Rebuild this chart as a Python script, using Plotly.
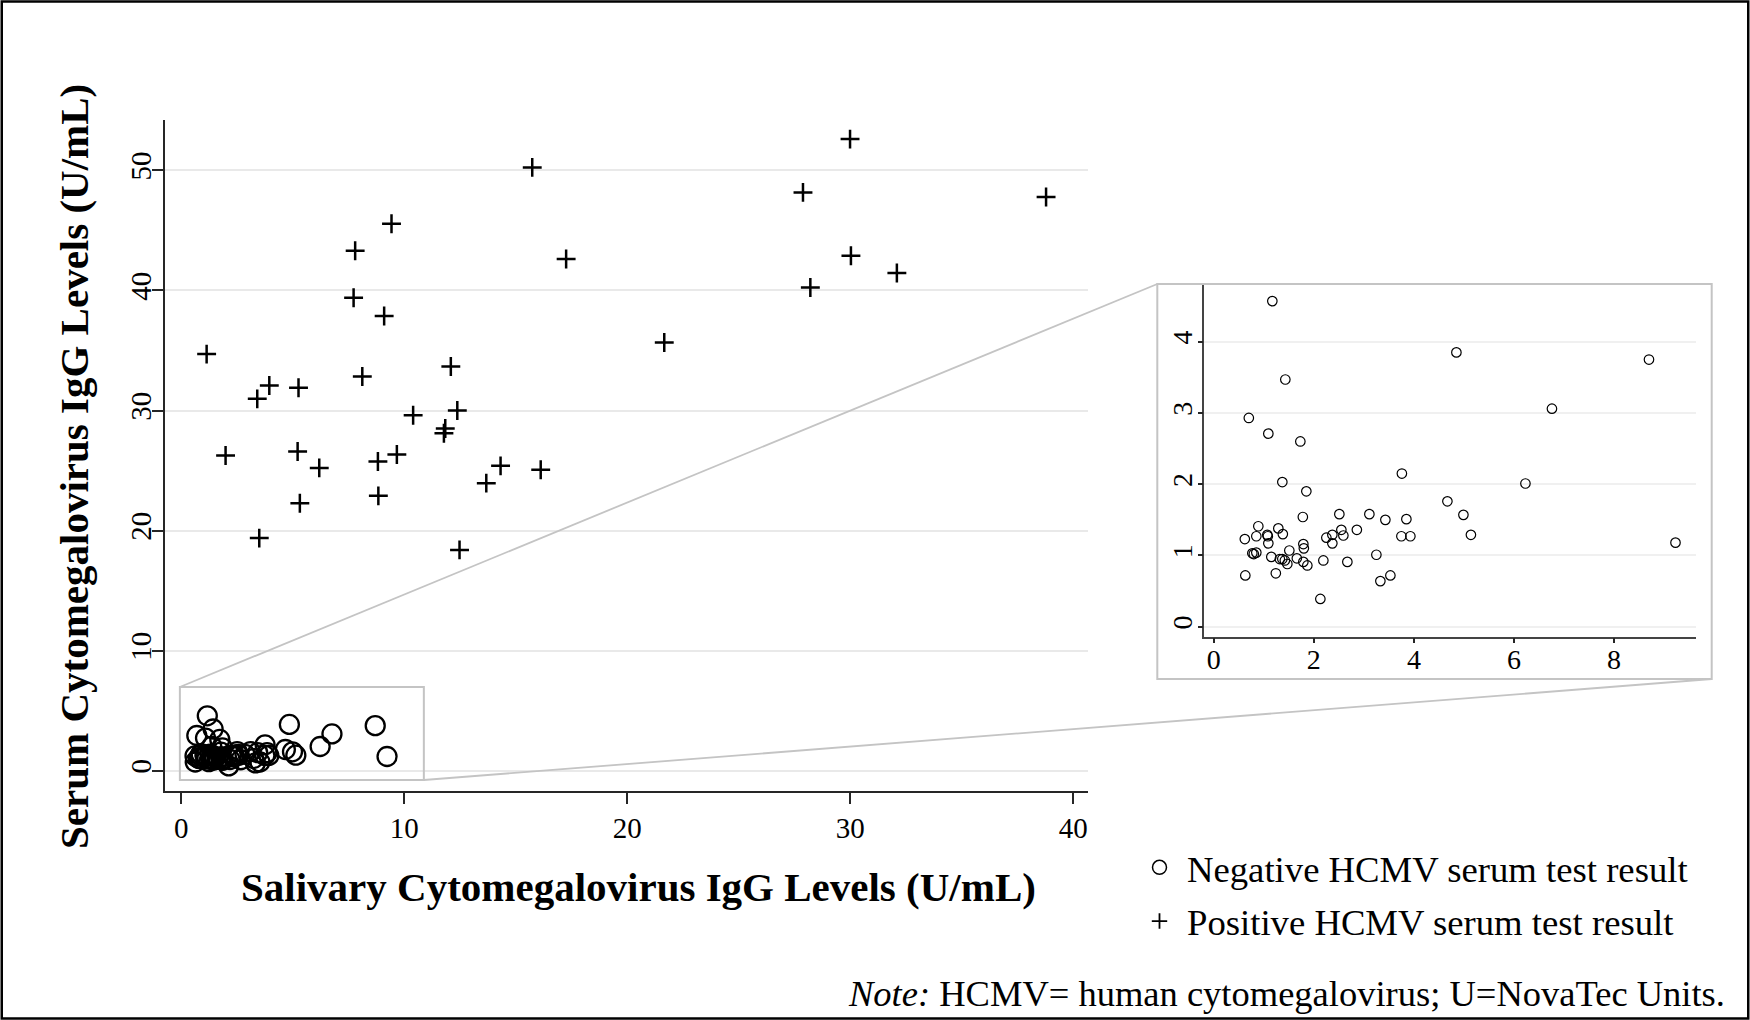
import plotly.graph_objects as go

W, H = 1750, 1020

# ---------------- data ----------------
neg_x = [1.17, 1.43, 0.70, 1.09, 1.73, 3.76, 1.37, 1.85, 1.78, 2.51,
         3.11, 3.43, 3.85, 0.89, 1.29, 0.62, 0.85, 1.07, 1.08, 1.38,
         1.09, 2.25, 2.37, 2.55, 2.59, 2.37, 2.86, 3.75, 3.93, 1.79,
         1.80, 1.51, 0.77, 0.85, 0.80, 1.15, 1.32, 1.37, 1.42, 1.47,
         1.66, 1.79, 1.87, 2.19, 2.67, 3.25, 1.24, 0.63, 3.33, 3.53,
         2.13, 4.67, 4.85, 8.70, 6.76, 6.23, 4.99, 5.14, 9.23]
neg_y = [4.57, 3.47, 2.93, 2.71, 2.60, 2.15, 2.03, 1.90, 1.54, 1.58,
         1.58, 1.50, 1.51, 1.41, 1.38, 1.23, 1.27, 1.29, 1.27, 1.30,
         1.17, 1.25, 1.29, 1.36, 1.28, 1.17, 1.36, 1.27, 1.27, 1.16,
         1.10, 1.07, 1.03, 1.04, 1.02, 0.98, 0.95, 0.95, 0.93, 0.88,
         0.96, 0.91, 0.86, 0.93, 0.91, 1.01, 0.75, 0.72, 0.64, 0.72,
         0.39, 1.76, 3.85, 3.75, 3.06, 2.01, 1.57, 1.29, 1.18]

pos_x = [15.74, 9.43, 7.80, 17.26, 7.73, 9.10, 1.14, 12.09, 8.12, 3.95,
         5.26, 3.41, 12.38, 10.40, 11.84, 11.78, 1.99, 5.22, 9.67, 8.82,
         6.19, 14.32, 16.12, 13.68, 8.84, 5.32, 3.50, 12.48, 27.88, 28.21,
         21.66, 29.99, 38.78, 30.03, 32.09]
pos_y = [50.25, 45.56, 43.31, 42.62, 39.39, 37.87, 34.70, 33.67, 32.83, 32.08,
         31.89, 30.97, 30.00, 29.61, 28.50, 28.11, 26.25, 26.58, 26.33, 25.75,
         25.22, 25.39, 25.06, 23.95, 22.89, 22.28, 19.37, 18.39, 48.17, 40.25,
         35.67, 52.61, 47.78, 42.89, 41.45]

x_ticks = [0, 10, 20, 30, 40]
y_ticks = [0, 10, 20, 30, 40, 50]
inset_x_ticks = [0, 2, 4, 6, 8]
inset_y_ticks = [0, 1, 2, 3, 4]

legend_labels = ["Negative HCMV serum test result", "Positive HCMV serum test result"]
x_title = "Salivary Cytomegalovirus IgG Levels (U/mL)"
y_title = "Serum Cytomegalovirus IgG Levels (U/mL)"
note_text = "<i>Note:</i> HCMV= human cytomegalovirus; U=NovaTec Units."

# zoomed region marked on the main plot (data units)
zoom_x = [-0.06, 10.88]
zoom_y = [-0.78, 6.97]

# ---------------- layout geometry (pixels) ----------------
main_l, main_r, main_t, main_b = 164.7, 1088.0, 120.0, 790.7
main_xr, main_yr = [-0.74, 40.66], [-1.67, 54.2]
ins_l, ins_r, ins_t, ins_b = 1204.3, 1696.0, 284.0, 636.7
ins_xr, ins_yr = [-0.19, 9.64], [-0.14, 4.81]
box_l, box_r, box_t, box_b = 1157.3, 1711.7, 284.0, 679.0

def px(x):
    return x / W

def py(y):
    return 1 - y / H

def main_to_px(xv, yv):
    X = main_l + (xv - main_xr[0]) / (main_xr[1] - main_xr[0]) * (main_r - main_l)
    Y = main_b - (yv - main_yr[0]) / (main_yr[1] - main_yr[0]) * (main_b - main_t)
    return X, Y

FONT = "Liberation Serif"
GRID = "#e9e9e9"
BOXC = "#c4c4c4"
AX = "#262626"

fig = go.Figure()

fig.add_trace(go.Scatter(
    x=neg_x, y=neg_y, mode="markers", showlegend=False, hoverinfo="skip",
    marker=dict(symbol="circle-open", size=19, color="black",
                line=dict(width=2.3, color="black")),
    xaxis="x", yaxis="y"))
fig.add_trace(go.Scatter(
    x=pos_x, y=pos_y, mode="markers", showlegend=False, hoverinfo="skip",
    marker=dict(symbol="cross-thin", size=13.5, color="black",
                line=dict(width=2.5, color="black")),
    xaxis="x", yaxis="y"))
fig.add_trace(go.Scatter(
    x=neg_x, y=neg_y, mode="markers", showlegend=False, hoverinfo="skip",
    marker=dict(symbol="circle-open", size=9.5, color="black",
                line=dict(width=1.2, color="black")),
    xaxis="x2", yaxis="y2"))

# legend entries
fig.add_trace(go.Scatter(
    x=[None], y=[None], mode="markers", name=legend_labels[0], legendgroup="a",
    marker=dict(symbol="circle-open", size=14, color="black",
                line=dict(width=1.5, color="black"))))
fig.add_trace(go.Scatter(
    x=[None], y=[None], mode="markers", name=legend_labels[1], legendgroup="b",
    marker=dict(symbol="cross-thin", size=11, color="black",
                line=dict(width=1.8, color="black"))))

tickfont_main = dict(family=FONT, size=29, color="black")
tickfont_ins = dict(family=FONT, size=28, color="black")

# connecting lines
zx0, zy1 = main_to_px(zoom_x[0], zoom_y[1])
zx1, zy0 = main_to_px(zoom_x[1], zoom_y[0])

shapes = [
    dict(type="rect", xref="x", yref="y", x0=zoom_x[0], x1=zoom_x[1],
         y0=zoom_y[0], y1=zoom_y[1], line=dict(color=BOXC, width=2)),
    dict(type="rect", xref="paper", yref="paper", x0=px(box_l), x1=px(box_r),
         y0=py(box_b), y1=py(box_t), line=dict(color=BOXC, width=2)),
    dict(type="line", xref="paper", yref="paper", x0=px(zx0), y0=py(zy1),
         x1=px(box_l), y1=py(box_t), line=dict(color=BOXC, width=1.8)),
    dict(type="line", xref="paper", yref="paper", x0=px(zx1), y0=py(zy0),
         x1=px(box_r), y1=py(box_b), line=dict(color=BOXC, width=1.8)),
    dict(type="rect", xref="paper", yref="paper", x0=0.001, x1=0.999,
         y0=0.0015, y1=0.9985, line=dict(color="black", width=2.5)),
]

fig.update_layout(
    width=W, height=H, margin=dict(l=0, r=0, t=0, b=0),
    paper_bgcolor="white", plot_bgcolor="rgba(0,0,0,0)",
    font=dict(family=FONT, color="black"),
    xaxis=dict(domain=[px(main_l), px(main_r)], range=main_xr, anchor="y",
               tickmode="array", tickvals=x_ticks, ticks="outside", ticklen=11,
               tickwidth=2, tickcolor=AX, showline=True, linecolor=AX, linewidth=2,
               showgrid=False, zeroline=False, tickfont=tickfont_main,
               ticklabelstandoff=-1),
    yaxis=dict(domain=[py(main_b), py(main_t)], range=main_yr, anchor="x",
               tickmode="array", tickvals=y_ticks, ticks="outside", ticklen=11,
               tickwidth=2, tickcolor=AX, showline=True, linecolor=AX, linewidth=2,
               showgrid=True, gridcolor=GRID, gridwidth=2, zeroline=False,
               tickfont=tickfont_main, tickangle=-90, ticklabelstandoff=-11),
    xaxis2=dict(domain=[px(ins_l), px(ins_r)], range=ins_xr, anchor="y2",
                tickmode="array", tickvals=inset_x_ticks, ticks="outside", ticklen=5,
                tickwidth=1.5, tickcolor=AX, showline=True, linecolor="#444", linewidth=1.5,
                showgrid=False, zeroline=False, tickfont=tickfont_ins,
                ticklabelstandoff=-8),
    yaxis2=dict(domain=[py(ins_b), py(ins_t)], range=ins_yr, anchor="x2",
                tickmode="array", tickvals=inset_y_ticks, ticks="outside", ticklen=5,
                tickwidth=1.5, tickcolor=AX, showline=True, linecolor="#444", linewidth=1.5,
                showgrid=True, gridcolor="#f0f0f0", gridwidth=1.5, zeroline=False,
                tickfont=tickfont_ins, tickangle=-90, ticklabelstandoff=-6),
    shapes=shapes,
    showlegend=True,
    legend=dict(x=px(1132), y=py(837), xanchor="left", yanchor="top",
                font=dict(family=FONT, size=36.7, color="black"),
                bgcolor="rgba(0,0,0,0)", traceorder="grouped", tracegroupgap=3,
                itemsizing="trace", itemwidth=45),
    annotations=[
        dict(text="<b>" + x_title + "</b>", xref="paper", yref="paper",
             x=px(638), y=py(887), xanchor="center", yanchor="middle",
             showarrow=False, font=dict(family=FONT, size=41, color="black")),
        dict(text="<b>" + y_title + "</b>", xref="paper", yref="paper",
             x=px(74), y=py(467), xanchor="center", yanchor="middle", textangle=-90,
             showarrow=False, font=dict(family=FONT, size=41, color="black")),
        dict(text=note_text, xref="paper", yref="paper",
             x=px(1727), y=py(993), xanchor="right", yanchor="middle",
             showarrow=False, font=dict(family=FONT, size=36.5, color="black")),
    ],
)

fig.write_html("out.html", config={"displayModeBar": False},
               post_script="document.body.style.margin='0px';document.body.style.overflow='hidden';")
